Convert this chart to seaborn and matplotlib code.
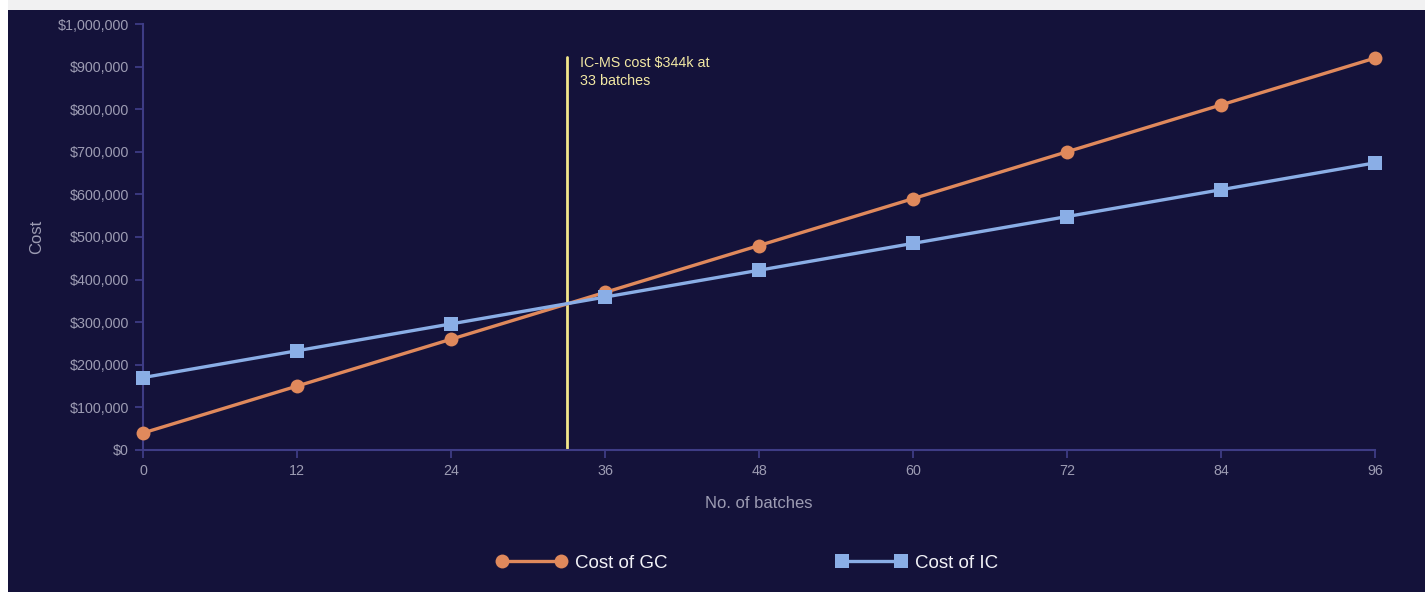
import matplotlib
matplotlib.use("Agg")
import matplotlib.pyplot as plt
import matplotlib.ticker as mticker
from matplotlib.patches import Rectangle
from matplotlib.lines import Line2D
import seaborn as sns
import pandas as pd

batches = [0, 12, 24, 36, 48, 60, 72, 84, 96]
cost_gc = [40000, 150000, 260000, 370000, 480000, 590000, 700000, 810000, 920000]
cost_ic = [170000, 233000, 296000, 359000, 422000, 485000, 548000, 611000, 674000]
series_names = ["Cost of GC", "Cost of IC"]
marker_x = 33
annotation = "IC-MS cost $344k at\n33 batches"
y_ticks = [0, 100000, 200000, 300000, 400000, 500000, 600000, 700000, 800000, 900000, 1000000]

df = pd.DataFrame({
    "batches": batches * 2,
    "cost": cost_gc + cost_ic,
    "series": [series_names[0]] * len(batches) + [series_names[1]] * len(batches),
})

sns.set_theme(style="dark")
plt.rcParams["font.family"] = ["Liberation Sans", "DejaVu Sans"]

BG = "#14123a"
AX_COL = "#3e3c85"
TXT = "#9d9cb3"
ORANGE = "#e0895c"
BLUE = "#8aaee6"

fig = plt.figure(figsize=(14.25, 5.92), dpi=100)
fig.patch.set_facecolor("#ffffff")
fig.add_artist(Rectangle((8 / 1425, 0), 1 - 8 / 1425, 582 / 592, transform=fig.transFigure,
                         facecolor=BG, edgecolor="none", zorder=0))
fig.add_artist(Rectangle((8 / 1425, 582 / 592), 1, 10 / 592, transform=fig.transFigure,
                         facecolor="#f1f1f2", edgecolor="none", zorder=0))

ax = fig.add_axes([143 / 1425, 142 / 592, (1375 - 143) / 1425, (568 - 142) / 592])
ax.set_facecolor(BG)

sns.lineplot(data=df, x="batches", y="cost", hue="series", style="series",
             palette={series_names[0]: ORANGE, series_names[1]: BLUE},
             markers={series_names[0]: "o", series_names[1]: "s"}, dashes=False,
             linewidth=2.4, markersize=10, markeredgewidth=0, ax=ax, legend=False,
             zorder=3)
for ln in ax.lines:
    ln.set_clip_on(False)

ax.axvline(marker_x, ymin=0, ymax=0.922, color="#f2e68a", linewidth=2, zorder=2)
ax.text(marker_x + 1.05, 924000, annotation, color="#f2e8a4", fontsize=10.3,
        va="top", ha="left", linespacing=1.3)

ax.set_xlim(0, 96)
ax.set_ylim(0, 1000000)
ax.set_xticks(batches)
ax.set_yticks(y_ticks)
ax.yaxis.set_major_formatter(mticker.FuncFormatter(lambda v, p: f"${v:,.0f}"))
ax.grid(False)

for side in ["top", "right"]:
    ax.spines[side].set_visible(False)
for side in ["left", "bottom"]:
    ax.spines[side].set_color(AX_COL)
    ax.spines[side].set_linewidth(1.5)

ax.tick_params(axis="both", colors=AX_COL, length=6, width=1.3, labelsize=10.3,
               labelcolor=TXT, pad=4, bottom=True, left=True)

ax.set_xlabel("No. of batches", color=TXT, fontsize=12, labelpad=13)
ax.set_ylabel("Cost", color=TXT, fontsize=12, labelpad=10)

handles = [
    Line2D([0], [0], color=ORANGE, marker="o", markersize=10, markeredgewidth=0, linewidth=2.4),
    Line2D([0], [0], color=BLUE, marker="s", markersize=10, markeredgewidth=0, linewidth=2.4),
]
leg = fig.legend(handles, series_names, loc="center", bbox_to_anchor=(747 / 1425, 1 - 563 / 592),
                 ncol=2, frameon=False, handlelength=3.75, columnspacing=9.0, handletextpad=0.45,
                 numpoints=2, prop={"family": ["Liberation Sans", "DejaVu Sans"], "size": 13.5})
for t in leg.get_texts():
    t.set_color("#f2f2f7")

fig.savefig("out.png", dpi=100, facecolor=fig.get_facecolor())
